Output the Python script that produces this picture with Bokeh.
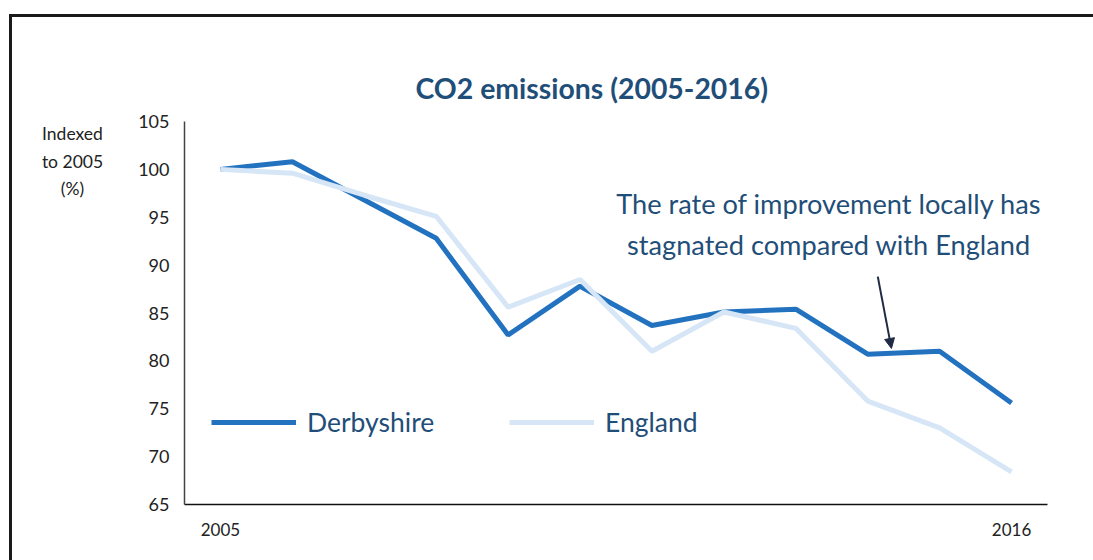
from bokeh.plotting import figure
from bokeh.layouts import row
from bokeh.models import (Label, Arrow, NormalHead, FixedTicker, Legend,
                          LegendItem, Range1d, Div)
from bokeh.embed import file_html
from bokeh.resources import INLINE

# ---- data ----
years = list(range(2005, 2017))
derbyshire = [100.0, 100.8, 96.8, 92.8, 82.7, 87.8, 83.7, 85.1, 85.4, 80.7, 81.0, 75.6]
england = [100.0, 99.6, 97.3, 95.1, 85.6, 88.5, 81.0, 85.1, 83.4, 75.8, 73.0, 68.4]
y_ticks = [65, 70, 75, 80, 85, 90, 95, 100, 105]
x_ticks = [2005, 2016]
x_tick_labels = {2005: "2005", 2016: "2016"}
title_text = "CO2 emissions (2005-2016)"
ylabel_lines = ["Indexed", "to 2005", "(%)"]
note_lines = ["The rate of improvement locally has", "stagnated compared with England"]

FONT = "Lato"
DARK = "#2272C0"
LIGHT = "#D6E6F6"
NAVY = "#1F4E79"

CAP_W = 121

caption = Div(text='<div style="text-align:center;font-family:Lato;font-size:17.5px;'
                   'line-height:27.5px;color:#222222;padding-top:103px;width:%dpx">%s</div>'
                   % (CAP_W, "<br>".join(ylabel_lines)),
              width=CAP_W, height=543, margin=0)

p = figure(width=1081 - CAP_W, height=543,
           x_range=Range1d(2004.5, 2016.5), y_range=Range1d(65, 105),
           output_backend="svg", toolbar_location=None,
           min_border_left=173 - CAP_W - 1, min_border_top=104,
           min_border_right=46, min_border_bottom=56)
p.xgrid.visible = False
p.ygrid.visible = False
p.outline_line_color = None
p.background_fill_color = "white"
p.border_fill_color = "white"

# title
p.title.text = title_text
p.title.align = "left"
p.title.offset = 231
p.title.standoff = 33
p.title.text_font = FONT
p.title.text_font_size = "28.4px"
p.title.text_font_style = "bold"
p.title.text_color = NAVY

# axes
p.yaxis.ticker = FixedTicker(ticks=y_ticks)
p.yaxis.major_tick_line_color = None
p.yaxis.minor_tick_line_color = None
p.yaxis.major_tick_out = 0
p.yaxis.major_tick_in = 0
p.yaxis.minor_tick_out = 0
p.yaxis.axis_line_color = "#444444"
p.yaxis.axis_line_width = 1.5
p.yaxis.major_label_text_font = FONT
p.yaxis.major_label_text_font_size = "18px"
p.yaxis.major_label_text_color = "#222222"
p.yaxis.major_label_standoff = 15

p.xaxis.ticker = FixedTicker(ticks=x_ticks)
p.xaxis.major_label_overrides = x_tick_labels
p.xaxis.major_tick_line_color = None
p.xaxis.minor_tick_line_color = None
p.xaxis.major_tick_out = 0
p.xaxis.major_tick_in = 0
p.xaxis.minor_tick_out = 0
p.xaxis.axis_line_color = "#111111"
p.xaxis.axis_line_width = 1.5
p.xaxis.major_label_text_font = FONT
p.xaxis.major_label_text_font_size = "17px"
p.xaxis.major_label_text_color = "#222222"
p.xaxis.major_label_standoff = 18

# lines
r1 = p.line(years, derbyshire, line_width=5, line_color=DARK)
r2 = p.line(years, england, line_width=5, line_color=LIGHT)

legend = Legend(items=[LegendItem(label="Derbyshire", renderers=[r1]),
                       LegendItem(label="England", renderers=[r2])],
                orientation="horizontal", location=(27, 66),
                glyph_width=85, glyph_height=20, label_standoff=11,
                label_width=200, spacing=2, padding=0, margin=0,
                border_line_color=None, background_fill_alpha=0,
                label_text_font=FONT, label_text_font_size="26.5px",
                label_text_color=NAVY)
p.add_layout(legend)

# annotation
for txt, yy in zip(note_lines, [96.45, 92.15]):
    p.add_layout(Label(x=2013.46, y=yy, text=txt, text_align="center",
                       text_baseline="middle", text_font=FONT,
                       text_font_size="27.2px", text_color=NAVY))

p.add_layout(Arrow(end=NormalHead(size=10, fill_color="#1f2a44", line_color="#1f2a44"),
                   x_start=2014.14, y_start=88.8, x_end=2014.33, y_end=81.3,
                   line_color="#1f2a44", line_width=2))

layout = row(caption, p, margin=(14, 0, 0, 9),
             styles={"border-top": "3px solid #1a1a1a",
                     "border-left": "3px solid #1a1a1a",
                     "background-color": "white"})

open("out.html", "w").write(file_html(layout, INLINE))
